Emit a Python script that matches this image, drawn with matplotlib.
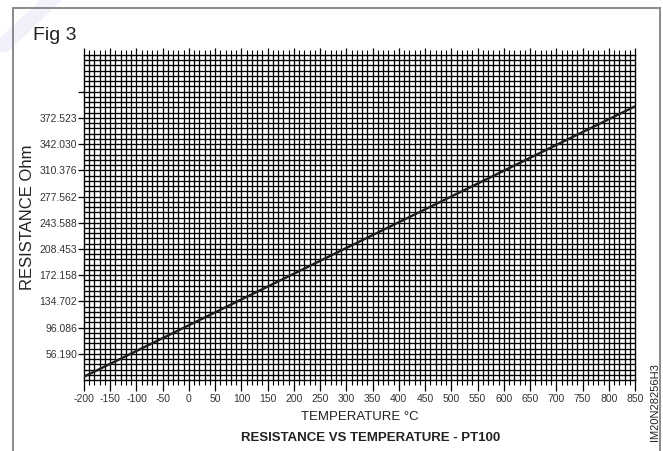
import numpy as np
import matplotlib.pyplot as plt
from matplotlib.patches import Polygon
from matplotlib.lines import Line2D

plt.rcParams['font.family'] = ['Liberation Sans', 'DejaVu Sans']

# ─────── Data ───────
# temperature range of the chart (°C)
temp = [-200, 850]
# line, in grid divisions (1 division = one small square)
line_div = [0.63, 52.2]

x_ticks = list(range(-200, 851, 50))
x_labels = [str(t) for t in x_ticks]

# resistance labels sit every 5 grid divisions
y_label_pos = [5, 10, 15, 20, 25, 30, 35, 40, 45, 50]
y_labels = ["56.190", "96.086", "134.702", "172.158", "208.453",
            "243.588", "277.562", "310.376", "342.030", "372.523"]
y_extra_tick = 55
y_top = 62

# ─────── Figure ───────
W, H = 663, 451
fig = plt.figure(figsize=(W / 100, H / 100), dpi=100)
ax = fig.add_axes([84 / W, 1 - 380 / H, (635 - 84) / W, (380 - 55) / H])

# faint watermark stroke in the corner
fig.patches.append(Polygon([(40 / W, 1), (62 / W, 1), (8 / W, 1 - 52 / H), (0, 1 - 52 / H), (0, 1 - 38 / H)],
                           closed=True, transform=fig.transFigure, facecolor='#f1f1fc',
                           edgecolor='none', zorder=0))

# outer frame
for xs, ys in [([13, 13], [H, 8]), ([13, 660], [8, 8]), ([660, 660], [8, H])]:
    fig.add_artist(Line2D([x / W for x in xs], [1 - y / H for y in ys],
                          transform=fig.transFigure, color='#8a8a8a', linewidth=1.4))

ax.set_xlim(temp[0], temp[1])
ax.set_ylim(0, y_top)

# grid: every 10 °C, every division
for t in range(-190, 850, 10):
    ax.axvline(t, color='black', linewidth=0.95, zorder=1)
for d in range(1, y_top):
    ax.axhline(d, color='black', linewidth=0.95, zorder=1)

ax.plot(temp, line_div, color='#1e1e1e', linewidth=1.7, zorder=3)

ax.set_xticks(x_ticks)
ax.set_xticklabels(x_labels, fontsize=7.5, color='#333333')
ax.set_xticks(range(-200, 851, 10), minor=True)
ax.set_yticks(y_label_pos + [y_extra_tick])
ax.set_yticklabels(y_labels + [""], fontsize=7.5, color='#333333')

ax.tick_params(axis='x', which='major', direction='out', length=8, width=0.9,
               top=True, pad=2)
ax.tick_params(axis='x', which='minor', direction='out', length=3.5, width=0.8, top=True)
ax.tick_params(axis='y', which='major', direction='out', length=4, width=0.9, pad=1)
for t in ax.xaxis.get_major_ticks():
    t.tick2line.set_markersize(5)

for s in ax.spines.values():
    s.set_linewidth(1.0)
    s.set_color('black')

ax.set_xlabel("TEMPERATURE °C", fontsize=9.5, color='#222222', labelpad=5)
ax.set_ylabel("RESISTANCE Ohm", fontsize=12, color='#222222', labelpad=3)

fig.text(33 / W, 1 - 40 / H, "Fig 3", fontsize=14, color='#222222', va='baseline')
fig.text(371 / W, 1 - 441 / H, "RESISTANCE VS TEMPERATURE - PT100", fontsize=9.5,
         fontweight='bold', color='#222222', ha='center', va='baseline')
fig.text(655 / W, 1 - 441 / H, "IM20N28256H3", fontsize=8, color='#222222',
         rotation=90, ha='center', va='bottom')

fig.savefig("out.png", dpi=100)
